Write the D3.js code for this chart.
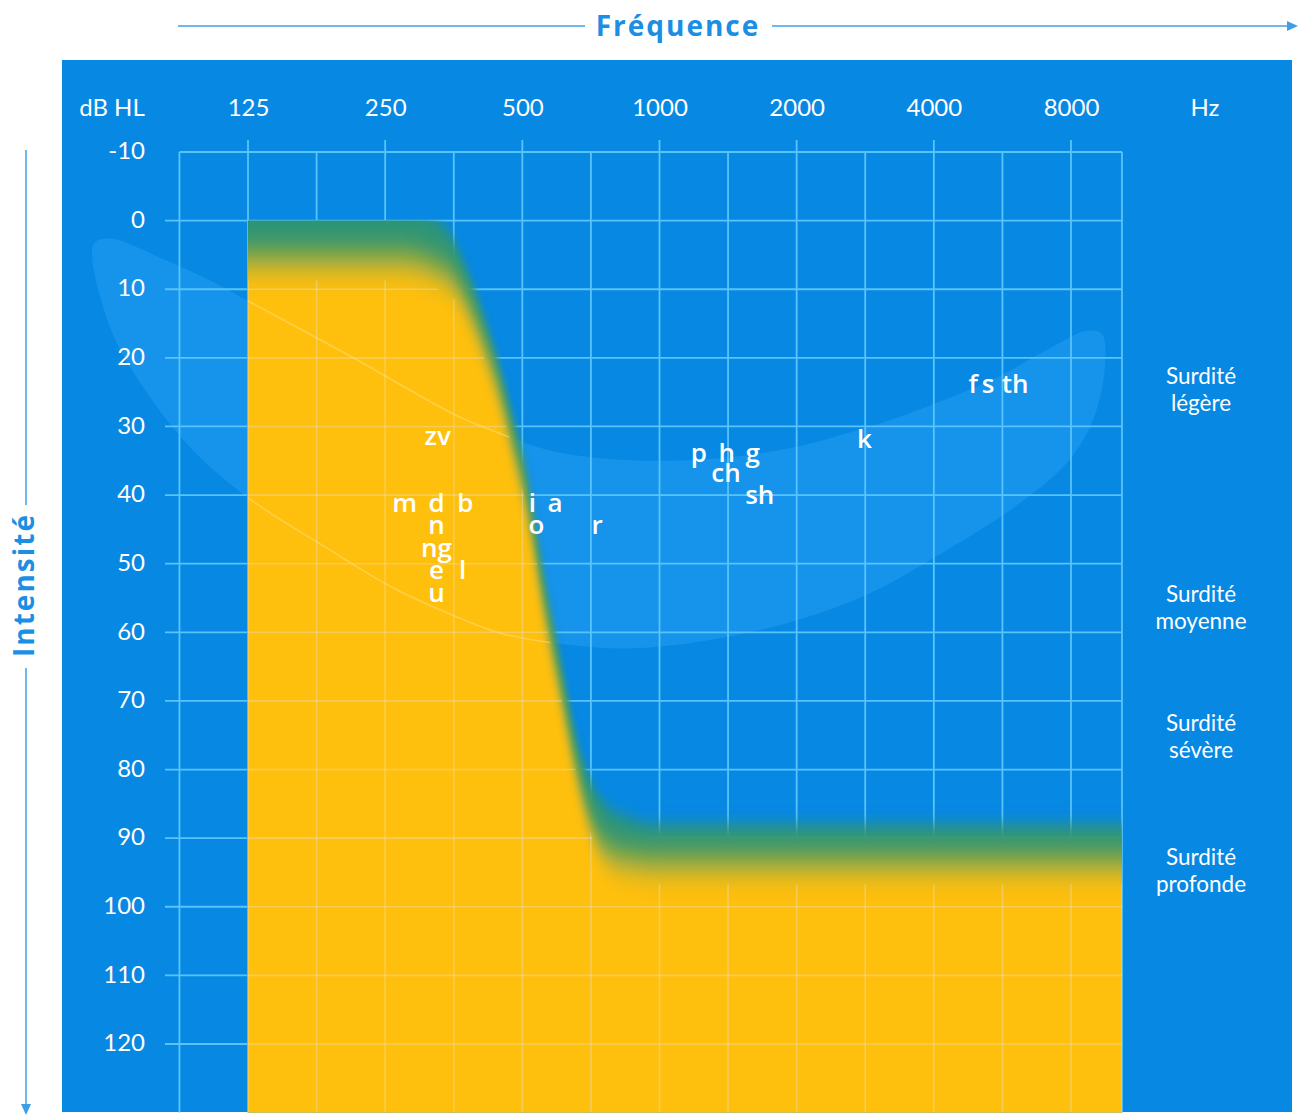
<!DOCTYPE html>
<html><head><meta charset="utf-8">
<script src="https://cdn.jsdelivr.net/npm/d3@7"></script>
<style>html,body{margin:0;padding:0;background:#fff;}svg{display:block;}</style>
</head><body>
<svg id="c" width="1303" height="1116"></svg>
<script>
// ---------- data ----------
const xTickFreqs = [125, 250, 500, 1000, 2000, 4000, 8000];
const xTickLabels = ["125", "250", "500", "1000", "2000", "4000", "8000"];
const dbTicks = [-10, 0, 10, 20, 30, 40, 50, 60, 70, 80, 90, 100, 110, 120];
const gridFreqs = [88.4, 125, 176.8, 250, 353.6, 500, 707.1, 1000, 1414, 2000, 2828, 4000, 5657, 8000, 10350];
const freqMin = 88.4, freqMax = 10350, dbMax = 130;

// threshold (hearing loss) curve: frequency (Hz) / level (dB HL)
const thresholdFreq = [110, 125, 200, 269, 313, 355, 383, 413, 445, 475, 510, 553, 612, 656, 700, 760, 850, 1000, 2000, 4000, 10350, 11500];
// level where the area turns yellow (middle of the yellow ramp)
const yellowDb = [5.5, 5.5, 5.5, 5.5, 6.5, 9,   13,  18.5, 25,  32.5, 41,  55,  70,  80,  87,  91.5, 93,  93.5, 93.5, 93.5, 93.5, 93.5];
// level where the blue ends and the green fringe begins
const fringeDb = [-3,  -3,  -3,  -3,  -1,  3,   8,   14,  21,  28,  36,  50,  65,  75,  81,  85,  87,  88,  88, 88, 88, 88];

// speech banana outline
const bananaFreq = [57.3, 62.3, 80.2, 103, 125, 209, 351, 430, 602, 1044, 1818, 2833, 3794, 5482, 7234, 8675, 9350, 9495, 8985, 7915, 6000, 4155, 2877, 1990, 1377, 953, 723, 452, 364, 260, 186, 125, 94.7, 73.6, 62.3, 57.3];
const bananaDb   = [3.4, 2.6, 5.4, 8.7, 11.7, 19.7, 28.1, 30.6, 33.8, 35, 33.5, 30.2, 27.3, 22.9, 18.5, 16.0, 16.5, 21.4, 28.7, 35, 41.8, 48.5, 54.4, 58.3, 60.8, 62.2, 62.2, 60.2, 57.9, 53.5, 47.7, 40.4, 33.5, 24.3, 15.6, 6.9];

// phonemes
const phonemes = ["zv", "m", "d", "b", "n", "ng", "e", "l", "u", "i", "a", "o", "r", "p", "h", "g", "ch", "sh", "k", "f", "s", "th"];
const phonemeFreq = [326, 276, 324, 375, 324, 324, 324, 370, 324, 526, 590, 537, 730, 1220, 1405, 1602, 1399, 1660, 2818, 4881, 5263, 6032];
const phonemeDb   = [31.6, 41.3, 41.3, 41.3, 44.5, 47.8, 51, 51, 54.4, 41.3, 41.3, 44.5, 44.5, 34, 34, 34, 36.9, 40.1, 32, 24, 24, 24];

// degree of deafness labels
const degreeLines = [["Surdité", "légère"], ["Surdité", "moyenne"], ["Surdité", "sévère"], ["Surdité", "profonde"]];
const degreeDb = [24.5, 56.3, 75.1, 94.7];

// ---------- scales ----------
const x = d3.scaleLog().base(2).domain([125, 8000]).range([248, 1071]);
const y = d3.scaleLinear().domain([-10, 120]).range([152, 1044]);

const svg = d3.select("#c");
const defs = svg.append("defs");
const BG = "#0788e2", GRID = "#58c4fb", YEL = "#ffbf10", GREEN = "#2a9478", TITLE = "#1a8fe3";

const xl = x(freqMin), xr = x(freqMax), yt = y(-10), yb = y(dbMax);

function blurFilter(id, dev) {
  defs.append("filter").attr("id", id).attr("filterUnits", "userSpaceOnUse")
    .attr("x", 0).attr("y", 0).attr("width", 1303).attr("height", 1400)
    .append("feGaussianBlur").attr("stdDeviation", dev);
}
blurFilter("blurG", "2.5 8");
blurFilter("blurY", "3 17");
defs.append("clipPath").attr("id", "yrect").append("rect")
  .attr("x", x(125)).attr("y", y(0)).attr("width", xr - x(125)).attr("height", yb - y(0));

const area = d3.area().x(d => d[0]).y0(1250).y1(d => d[1]).curve(d3.curveMonotoneX);
const yellowD = area(thresholdFreq.map((f, i) => [x(f), y(yellowDb[i])]));
const fringeD = area(thresholdFreq.map((f, i) => [x(f), y(fringeDb[i])]));
// clip for the pale overlay: the fully yellow part only
defs.append("clipPath").attr("id", "yshape").append("path").attr("d", yellowD).attr("transform", "translate(4,22)");

// background
svg.append("rect").attr("x", 62).attr("y", 60).attr("width", 1230).attr("height", 1052).attr("fill", BG);

// banana
const bPts = bananaFreq.map((f, i) => [x(f), y(bananaDb[i])]);
const bLine = d3.line().curve(d3.curveCatmullRomClosed.alpha(0.5));
const bPath = bLine(bPts.slice(0, -1));
svg.append("path").attr("d", bPath).attr("fill", "rgba(60,175,255,0.28)");

// grid drawing helper
function drawGrid(g, color, width) {
  g.selectAll("line.v").data(gridFreqs).join("line").attr("class", "v")
    .attr("x1", d => x(d)).attr("x2", d => x(d))
    .attr("y1", d => xTickFreqs.includes(d) ? 140 : yt).attr("y2", yb)
    .attr("stroke", color).attr("stroke-width", width);
  g.selectAll("line.h").data(dbTicks).join("line").attr("class", "h")
    .attr("x1", d => d === -10 ? xl : 165).attr("x2", xr)
    .attr("y1", d => y(d)).attr("y2", d => y(d))
    .attr("stroke", color).attr("stroke-width", width);
}
drawGrid(svg.append("g"), GRID, 1.8);

// yellow threshold area with soft green fringe
const yg = svg.append("g").attr("clip-path", "url(#yrect)");
yg.append("path").attr("d", fringeD).attr("fill", GREEN).attr("filter", "url(#blurG)");
yg.append("path").attr("d", yellowD).attr("fill", YEL).attr("filter", "url(#blurY)");

// grid + banana outline faintly visible through yellow
const yo = svg.append("g").attr("clip-path", "url(#yrect)").append("g").attr("clip-path", "url(#yshape)");
drawGrid(yo, "rgba(230,225,200,0.4)", 1.6);
yo.append("path").attr("d", bPath).attr("fill", "none").attr("stroke", "rgba(255,232,160,0.4)").attr("stroke-width", 1.6);

// axes labels
const font = "Lato, 'Open Sans', sans-serif";
const xAxis = d3.axisTop(x).tickValues(xTickFreqs).tickFormat((d, i) => xTickLabels[i]).tickSize(0).tickPadding(0);
const gx = svg.append("g").attr("transform", "translate(0,116)").call(xAxis);
gx.select(".domain").remove();
gx.selectAll("text").attr("fill", "#fff").attr("font-family", font).attr("font-size", 24);

const yAxis = d3.axisLeft(y).tickValues(dbTicks).tickSize(0).tickPadding(0).tickFormat(d => d);
const gy = svg.append("g").attr("transform", "translate(145,0)").call(yAxis);
gy.select(".domain").remove();
gy.selectAll("text").attr("fill", "#fff").attr("font-family", font).attr("font-size", 24).attr("dy", "0.28em");

svg.append("text").attr("x", 112).attr("y", 116).attr("text-anchor", "middle").attr("fill", "#fff")
  .attr("font-family", font).attr("font-size", 24).text("dB HL");
svg.append("text").attr("x", 1205).attr("y", 116).attr("text-anchor", "middle").attr("fill", "#fff")
  .attr("font-family", font).attr("font-size", 24).text("Hz");

// degree labels
degreeLines.forEach((lines, i) => {
  const t = svg.append("text").attr("x", 1201).attr("y", y(degreeDb[i]) - 5).attr("text-anchor", "middle")
    .attr("fill", "#fff").attr("font-family", font).attr("font-size", 22.5);
  t.append("tspan").attr("x", 1201).text(lines[0]);
  t.append("tspan").attr("x", 1201).attr("dy", 27).text(lines[1]);
});

// phonemes
svg.append("g").selectAll("text").data(phonemes).join("text")
  .attr("x", (d, i) => x(phonemeFreq[i])).attr("y", (d, i) => y(phonemeDb[i]) + 8)
  .attr("text-anchor", "middle").attr("fill", "#fff")
  .attr("font-family", "'Open Sans', sans-serif").attr("font-weight", 600).attr("font-size", 26)
  .text(d => d);

// outer titles and arrows
const AX = "#3f9fe6";
svg.append("text").attr("x", 678).attr("y", 36).attr("text-anchor", "middle").attr("fill", TITLE)
  .attr("font-family", "'Open Sans', sans-serif").attr("font-weight", 700).attr("font-size", 28)
  .attr("letter-spacing", 2).text("Fréquence");
svg.append("line").attr("x1", 178).attr("x2", 585).attr("y1", 26).attr("y2", 26).attr("stroke", AX).attr("stroke-width", 1.5);
svg.append("line").attr("x1", 772).attr("x2", 1290).attr("y1", 26).attr("y2", 26).attr("stroke", AX).attr("stroke-width", 1.5);
svg.append("path").attr("d", "M1298,26 L1287,21 L1287,31 Z").attr("fill", AX);

svg.append("text").attr("transform", "translate(34,585) rotate(-90)").attr("text-anchor", "middle").attr("fill", TITLE)
  .attr("font-family", "'Open Sans', sans-serif").attr("font-weight", 700).attr("font-size", 28)
  .attr("letter-spacing", 2).text("Intensité");
svg.append("line").attr("x1", 26).attr("x2", 26).attr("y1", 150).attr("y2", 505).attr("stroke", AX).attr("stroke-width", 1.5);
svg.append("line").attr("x1", 26).attr("x2", 26).attr("y1", 668).attr("y2", 1106).attr("stroke", AX).attr("stroke-width", 1.5);
svg.append("path").attr("d", "M26,1115 L21,1104 L31,1104 Z").attr("fill", AX);
</script>
</body></html>
